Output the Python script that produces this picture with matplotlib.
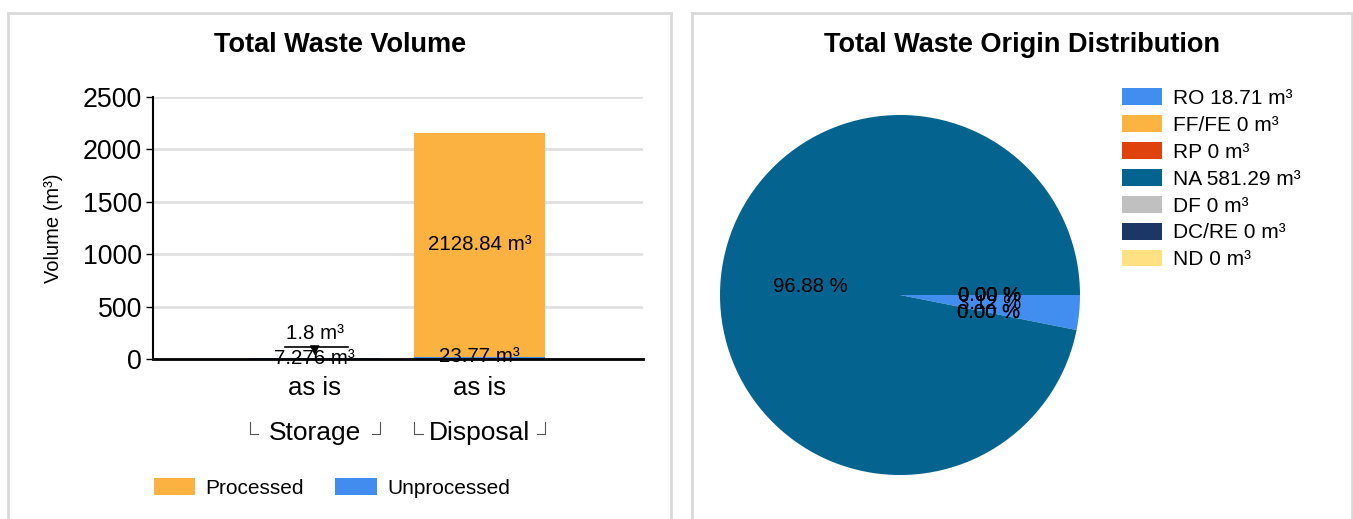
import matplotlib.pyplot as plt
from matplotlib.patches import Rectangle
import numpy as np

plt.rcParams['font.family'] = ['Liberation Sans', 'DejaVu Sans']

# Bar chart data
categories = ['Storage', 'Disposal']
sub_labels = ['as is', 'as is']
processed = [1.8, 2128.84]
unprocessed = [7.276, 23.77]

# Pie chart data
origins = ['RO', 'FF/FE', 'RP', 'NA', 'DF', 'DC/RE', 'ND']
origin_values = [18.71, 0, 0, 581.29, 0, 0, 0]
origin_colors = ['#428ef0', '#fbb441', '#e0420e', '#04648f', '#c0c0c0', '#1b3765', '#ffe083']

W, H = 1353, 519
fig = plt.figure(figsize=(W / 100, H / 100), dpi=100)


def px(x0, y0, x1, y1):
    # pixel box (top-left origin) -> figure fraction
    return [x0 / W, 1 - y1 / H, (x1 - x0) / W, (y1 - y0) / H]


# Panel borders
for x0, x1 in [(8, 671), (692, 1352)]:
    fig.patches.append(Rectangle((x0 / W, -0.05), (x1 - x0) / W, 1.05 - 13 / H,
                                 transform=fig.transFigure, fill=False,
                                 edgecolor='#d9d9d9', linewidth=2))

# ---- Bar chart ----
ax = fig.add_axes(px(153, 97, 643, 359))
x = np.arange(len(categories))
ax.bar(x, unprocessed, width=0.79, color='#428bef', label='Unprocessed')
ax.bar(x, processed, width=0.79, bottom=unprocessed, color='#fbb240', label='Processed')
ax.set_xlim(-0.98, 1.99)
ax.set_ylim(0, 2500)
ax.set_yticks([0, 500, 1000, 1500, 2000, 2500])
ax.yaxis.grid(True, color='#e0e0e0', linewidth=2)
ax.set_axisbelow(True)
ax.tick_params(axis='y', labelsize=19.3, length=5, width=1, pad=3)
ax.tick_params(axis='x', length=0, labelbottom=False)
for s in ['top', 'right']:
    ax.spines[s].set_visible(False)
ax.spines['left'].set_linewidth(1.5)
ax.spines['bottom'].set_linewidth(2)
ax.set_ylabel('Volume (m³)', fontsize=14.5, labelpad=14)
fig.text(340 / W, 1 - 45 / H, 'Total Waste Volume', ha='center', va='center',
         fontsize=19.5, fontweight='bold')

# value labels
fs = 14.8
ax.text(x[1], unprocessed[1] + processed[1] / 2, f'{processed[1]:g} m³',
        ha='center', va='center', fontsize=fs)
ax.text(x[1], unprocessed[1], f'{unprocessed[1]:g} m³', ha='center', va='center', fontsize=fs)
ax.text(x[0], 0, f'{unprocessed[0]:g} m³', ha='center', va='center', fontsize=fs)
ax.annotate(f'{processed[0]:g} m³', xy=(x[0], unprocessed[0] + processed[0]),
            xytext=(x[0], 240), ha='center', va='center', fontsize=fs,
            arrowprops=dict(arrowstyle='-|>', color='black', lw=0.8))
ax.plot([x[0] - 0.18, x[0] + 0.2], [115, 115], color='black', lw=1.2)

# category labels
for xi, sl, cat in zip(x, sub_labels, categories):
    ax.text(xi, -280, sl, ha='center', va='center', fontsize=18.5, clip_on=False)
    ax.text(xi, -710, cat, ha='center', va='center', fontsize=19, clip_on=False)
    ax.plot([xi - 0.395, xi - 0.395, xi - 0.345], [-600, -720, -720], color='#555555',
            lw=0.8, clip_on=False)
    ax.plot([xi + 0.395, xi + 0.395, xi + 0.345], [-600, -720, -720], color='#555555',
            lw=0.8, clip_on=False)

handles, labels = ax.get_legend_handles_labels()
fig.legend(handles[::-1], labels[::-1], loc='center', bbox_to_anchor=(332 / W, 1 - 488 / H),
           ncol=2, frameon=False, fontsize=15, handlelength=2.0, handleheight=0.9,
           columnspacing=1.5, handletextpad=0.5)

# ---- Pie chart ----
pax = fig.add_axes(px(720, 115, 1080, 475))
wedges, texts, autotexts = pax.pie(origin_values, colors=origin_colors, startangle=0,
                                   counterclock=False, autopct='%.2f %%', pctdistance=0.5,
                                   textprops=dict(fontsize=14.7, color='black'))
pax.set_xlim(-1, 1)
pax.set_ylim(-1, 1)
pax.set_aspect('equal')
fig.text(1022 / W, 1 - 45 / H, 'Total Waste Origin Distribution', ha='center', va='center',
         fontsize=19.5, fontweight='bold')

pax.legend(wedges, [f'{o} {v:g} m³' for o, v in zip(origins, origin_values)],
           loc='upper left', bbox_to_anchor=(1114 / W, 1 - 80 / H),
           bbox_transform=fig.transFigure, frameon=False, fontsize=15, borderaxespad=0,
           handlelength=1.92, handleheight=0.85, labelspacing=0.355, handletextpad=0.5)

fig.savefig('out.png', dpi=100)
